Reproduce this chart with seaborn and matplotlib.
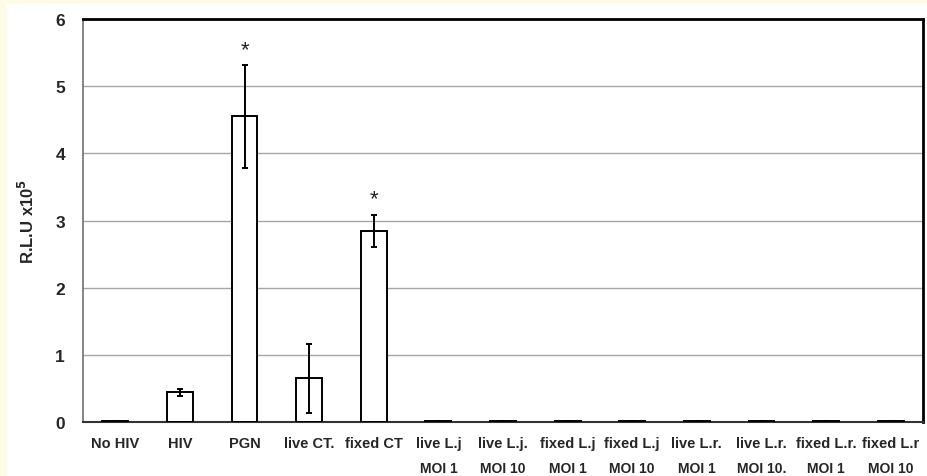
import numpy as np
import pandas as pd
import matplotlib
matplotlib.use('Agg')
import matplotlib.pyplot as plt
import matplotlib.transforms as mtransforms
from matplotlib.patches import Rectangle
import seaborn as sns

labels = ['No HIV', 'HIV', 'PGN', 'live CT.', 'fixed CT', 'live L.j', 'live L.j.',
          'fixed L.j', 'fixed L.j', 'live L.r.', 'live L.r.', 'fixed L.r.', 'fixed L.r']
sublabels = ['', '', '', '', '', 'MOI 1', 'MOI 10', 'MOI 1', 'MOI 10',
             'MOI 1', 'MOI 10.', 'MOI 1', 'MOI 10']
values = [0.01, 0.44, 4.55, 0.65, 2.84, 0.01, 0.01, 0.01, 0.01, 0.01, 0.01, 0.01, 0.01]
errors = [0, 0.05, 0.77, 0.51, 0.24, 0, 0, 0, 0, 0, 0, 0, 0]
stars = {2: 5.55, 4: 3.33}

sns.set_style('white')
plt.rcParams['font.family'] = ['Liberation Sans', 'DejaVu Sans']
plt.rcParams['mathtext.default'] = 'bf'

df = pd.DataFrame({'cat': [f'c{i}' for i in range(len(labels))], 'val': values})

fig = plt.figure(figsize=(9.27, 4.77), dpi=100, facecolor='white')
fig.patches.append(Rectangle((0, 0), 7 / 927, 1, transform=fig.transFigure,
                             facecolor='#fefbe6', edgecolor='none', zorder=0))
fig.patches.append(Rectangle((0, 1 - 5 / 477), 1, 5 / 477, transform=fig.transFigure,
                             facecolor='#fefbe6', edgecolor='none', zorder=0))
ax = fig.add_axes([83 / 927, 54 / 477, 840 / 927, 403 / 477])

sns.barplot(data=df, x='cat', y='val', ax=ax, color='white', edgecolor='black',
            linewidth=1.4, width=0.4, errorbar=None, zorder=3)
x = np.arange(len(labels))
ax.errorbar(x, values, yerr=errors, fmt='none', ecolor='black', elinewidth=1.4,
            capsize=2.2, capthick=1.4, zorder=4)
for i, y in stars.items():
    ax.text(i, y, '*', ha='center', va='center', fontsize=16, color='#222222')

ax.set_ylim(0, 6)
ax.set_xlim(-0.5, len(labels) - 0.5)
ax.set_yticks(range(7))
ax.yaxis.grid(True, color='#a6a6a6', linewidth=1, zorder=0)
ax.set_axisbelow(True)
ax.tick_params(axis='y', labelsize=12.5, length=4, color='#808080', width=1, pad=9)
for t in ax.get_yticklabels():
    t.set_fontweight('bold')

ax.set_xticks(x)
ax.set_xticklabels(labels, fontsize=10.5, fontweight='bold')
ax.tick_params(axis='x', length=0, pad=10)
ax.set_xticks(np.arange(-0.5, len(labels), 1), minor=True)
ax.tick_params(axis='x', which='minor', length=4, color='#909090', width=1)
trans = mtransforms.blended_transform_factory(ax.transData, ax.transAxes)
for i, s in enumerate(sublabels):
    if s:
        ax.text(i, -0.115, s, transform=trans, ha='center', va='center',
                fontsize=10, fontweight='bold')

ax.set_xlabel('')
ax.set_ylabel(r'R.L.U x10$^5$', fontsize=12, fontweight='bold', labelpad=13)

ax.spines['top'].set_color('black')
ax.spines['top'].set_linewidth(2)
ax.spines['right'].set_color('black')
ax.spines['right'].set_linewidth(2)
ax.spines['left'].set_color('#707070')
ax.spines['left'].set_linewidth(1.2)
ax.spines['bottom'].set_color('#333333')
ax.spines['bottom'].set_linewidth(1.5)

fig.savefig('out.png', dpi=100, facecolor=fig.get_facecolor())
